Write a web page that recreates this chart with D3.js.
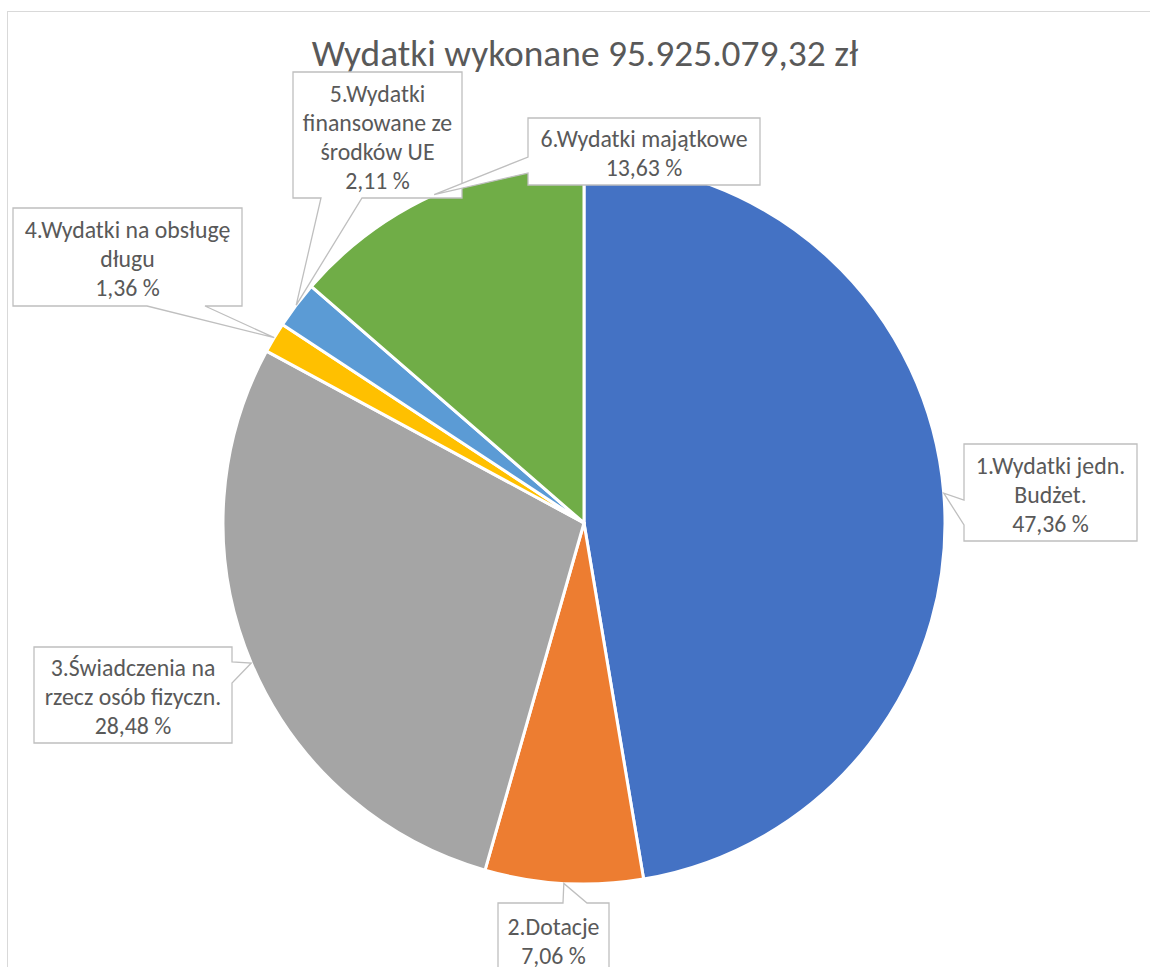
<!DOCTYPE html>
<html><head><meta charset="utf-8">
<script src="https://cdn.jsdelivr.net/npm/d3@7"></script>
<style>body{margin:0;background:#fff}svg{display:block}</style>
</head><body>
<svg id="c" width="1150" height="967"></svg>
<script>
// ---- data ----
const title = "Wydatki wykonane 95.925.079,32 zł";
const categories = ["1.Wydatki jedn. Budżet.", "2.Dotacje", "3.Świadczenia na rzecz osób fizyczn.", "4.Wydatki na obsługę długu", "5.Wydatki finansowane ze środków UE", "6.Wydatki majątkowe"];
const labelLines = [["1.Wydatki jedn.", "Budżet."], ["2.Dotacje"], ["3.Świadczenia na", "rzecz osób fizyczn."], ["4.Wydatki na obsługę", "długu"], ["5.Wydatki", "finansowane ze", "środków UE"], ["6.Wydatki majątkowe"]];
const values = [47.36, 7.06, 28.48, 1.36, 2.11, 13.63];
const valueLabels = ["47,36 %", "7,06 %", "28,48 %", "1,36 %", "2,11 %", "13,63 %"];
const colors = ["#4472C4", "#ED7D31", "#A5A5A5", "#FFC000", "#5B9BD5", "#70AD47"];

// ---- layout (positions of label callouts) ----
const cx = 584, cy = 523, R = 361;
const boxes = [
  {x0: 964, y0: 444, x1: 1137, y1: 541, side: "left", b0: 500, b1: 525},
  {x0: 498, y0: 903, x1: 609, y1: 976, side: "top", b0: 563, b1: 587},
  {x0: 34, y0: 647, x1: 232, y1: 743, side: "right", b0: 662, b1: 683},
  {x0: 13, y0: 208, x1: 242, y1: 306, side: "bottom", b0: 147, b1: 205},
  {x0: 293, y0: 72, x1: 462, y1: 198, side: "bottom", b0: 321, b1: 362},
  {x0: 528, y0: 118, x1: 760, y1: 185, side: "left", b0: 157, b1: 173}
];
const FONT = "Carlito, Lato, 'Open Sans', sans-serif";
const textColor = "#595959";

const svg = d3.select("#c");
svg.append("rect").attr("x", 7.5).attr("y", 11.5).attr("width", 1300).attr("height", 1100)
  .attr("fill", "#fff").attr("stroke", "#d9d9d9").attr("stroke-width", 1);

svg.append("text").attr("x", 585).attr("y", 66).attr("text-anchor", "middle")
  .attr("font-family", FONT).attr("font-size", 37.4).attr("fill", textColor).text(title);

const pie = d3.pie().sort(null).value(d => d);
const arcs = pie(values);
const arc = d3.arc().innerRadius(0).outerRadius(R);

const g = svg.append("g").attr("transform", `translate(${cx},${cy})`);
g.selectAll("path").data(arcs).join("path")
  .attr("d", arc).attr("fill", (d, i) => colors[i])
  .attr("stroke", "#fff").attr("stroke-width", 3).attr("stroke-linejoin", "round");

function calloutPath(b, tip) {
  const {x0, y0, x1, y1, side, b0, b1} = b;
  const [tx, ty] = tip;
  let pts;
  if (side === "left") pts = [[x0, y0], [x1, y0], [x1, y1], [x0, y1], [x0, b1], [tx, ty], [x0, b0]];
  else if (side === "right") pts = [[x0, y0], [x1, y0], [x1, b0], [tx, ty], [x1, b1], [x1, y1], [x0, y1]];
  else if (side === "top") pts = [[x0, y0], [b0, y0], [tx, ty], [b1, y0], [x1, y0], [x1, y1], [x0, y1]];
  else pts = [[x0, y0], [x1, y0], [x1, y1], [b1, y1], [tx, ty], [b0, y1], [x0, y1]];
  return "M" + pts.map(p => p[0] + "," + p[1]).join("L") + "Z";
}

const lab = svg.append("g");
arcs.forEach((a, i) => {
  const mid = (a.startAngle + a.endAngle) / 2;
  const tip = [cx + R * Math.sin(mid), cy - R * Math.cos(mid)];
  const b = boxes[i];
  lab.append("path").attr("d", calloutPath(b, tip))
    .attr("fill", "#fff").attr("stroke", "#bfbfbf").attr("stroke-width", 1.3);
  const lines = labelLines[i].concat([valueLabels[i]]);
  const mx = (b.x0 + b.x1) / 2, my = (b.y0 + b.y1) / 2;
  const n = lines.length, lh = 29;
  lines.forEach((t, k) => {
    lab.append("text").attr("x", mx).attr("y", my + (k - (n - 1) / 2) * lh + 2)
      .attr("dy", "0.35em").attr("text-anchor", "middle")
      .attr("font-family", FONT).attr("font-size", 23.8).attr("fill", textColor).text(t);
  });
});
</script>
</body></html>
